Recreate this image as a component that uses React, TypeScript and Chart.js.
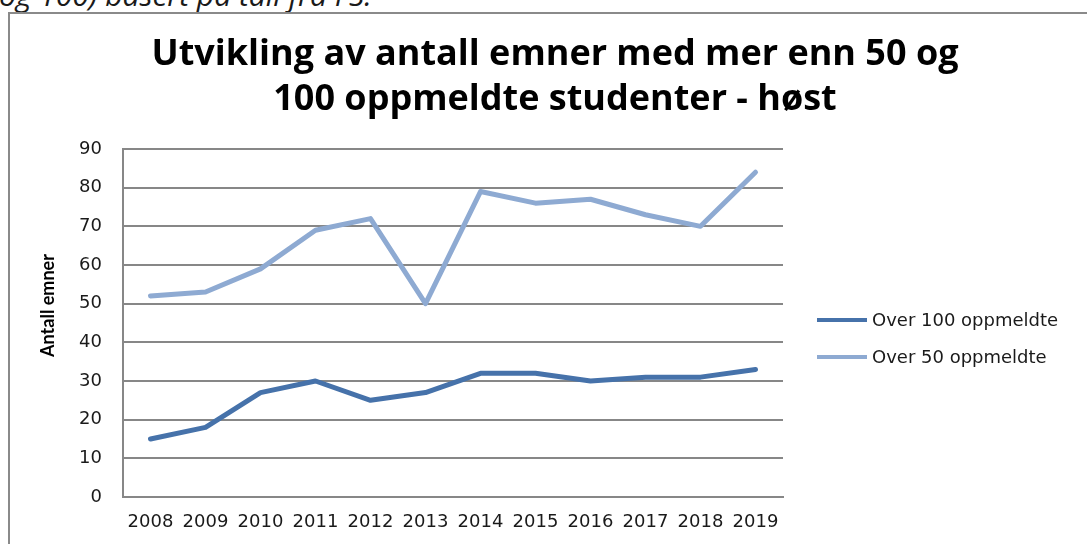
import React, { useEffect, useRef } from "react";
import { Chart, registerables } from "chart.js";

Chart.register(...registerables);

const years = ["2008", "2009", "2010", "2011", "2012", "2013", "2014", "2015", "2016", "2017", "2018", "2019"];
const over100 = [15, 18, 27, 30, 25, 27, 32, 32, 30, 31, 31, 33];
const over50 = [52, 53, 59, 69, 72, 50, 79, 76, 77, 73, 70, 84];
const seriesLabels = ["Over 100 oppmeldte", "Over 50 oppmeldte"];
const seriesColors = ["#4672aa", "#8eaad2"];
const titleLines = ["Utvikling av antall emner med mer enn 50 og", "100 oppmeldte studenter - høst"];
const yTitle = "Antall emner";
const caption = "og 100) basert på tall fra FS.";

const legendPlugin = {
  id: "sideLegend",
  afterDraw(chart: any) {
    const ctx = chart.ctx;
    const x0 = chart.chartArea.right + 34;
    const y0 = 306;
    ctx.save();
    chart.data.datasets.forEach((ds: any, i: number) => {
      const y = y0 + i * 37;
      ctx.strokeStyle = ds.borderColor;
      ctx.lineWidth = 4;
      ctx.lineCap = "butt";
      ctx.beginPath();
      ctx.moveTo(x0, y);
      ctx.lineTo(x0 + 50, y);
      ctx.stroke();
      ctx.fillStyle = "#1a1a1a";
      ctx.font = "18px 'DejaVu Sans'";
      ctx.textBaseline = "middle";
      ctx.textAlign = "left";
      ctx.fillText(ds.label, x0 + 55, y + 1);
    });
    ctx.restore();
  },
};

export default function App() {
  const ref = useRef<HTMLCanvasElement>(null);
  useEffect(() => {
    if (!ref.current) return;
    const chart = new Chart(ref.current, {
      type: "line",
      data: {
        labels: years,
        datasets: [
          {
            label: seriesLabels[0],
            data: over100,
            borderColor: seriesColors[0],
            backgroundColor: seriesColors[0],
            borderWidth: 5,
            pointRadius: 0,
            tension: 0,
            borderJoinStyle: "round",
            borderCapStyle: "round",
            yAxisID: "y",
          },
          {
            label: seriesLabels[1],
            data: over50,
            borderColor: seriesColors[1],
            backgroundColor: seriesColors[1],
            borderWidth: 5,
            pointRadius: 0,
            tension: 0,
            borderJoinStyle: "round",
            borderCapStyle: "round",
            yAxisID: "y",
          },
        ],
      },
      options: {
        responsive: false,
        animation: false,
        layout: { padding: { left: 0, right: 0, top: 0, bottom: 0 } },
        plugins: {
          legend: { display: false },
          tooltip: { enabled: false },
          title: {
            display: true,
            text: titleLines,
            color: "#000",
            font: { family: "Open Sans", size: 36, weight: "bold", lineHeight: 1.25 },
            padding: { top: 18.5, bottom: 26.5 },
          },
        },
        scales: {
          x: {
            offset: true,
            grid: { display: false, drawTicks: false },
            border: { display: true, color: "#878787", width: 2 },
            ticks: {
              color: "#1a1a1a",
              font: { family: "DejaVu Sans", size: 18 },
              padding: 15,
              maxRotation: 0,
              autoSkip: false,
            },
            afterFit: (scale: any) => {
              scale.height = 67;
            },
          },
          y: {
            min: 0,
            max: 90,
            grid: { color: "#878787", lineWidth: 2, drawTicks: false },
            border: { display: true, color: "#878787", width: 2 },
            ticks: {
              stepSize: 10,
              color: "#1a1a1a",
              font: { family: "DejaVu Sans", size: 18 },
              padding: 21,
            },
            title: {
              display: true,
              text: "        " + yTitle,
              color: "#000",
              font: { family: "Lato", size: 18, weight: "bold" },
              padding: { top: 27, bottom: 0 },
            },
            afterFit: (scale: any) => {
              scale.width = 113;
            },
          },
          yRight: {
            position: "right",
            display: true,
            grid: { display: false, drawTicks: false },
            border: { display: false },
            ticks: { display: false },
            afterFit: (scale: any) => {
              scale.width = 317;
            },
          },
        },
      },
      plugins: [legendPlugin],
    });
    return () => chart.destroy();
  }, []);

  return (
    <div
      style={{
        position: "fixed",
        left: 0,
        top: 0,
        width: 1087,
        height: 544,
        overflow: "hidden",
        background: "#fff",
      }}
    >
      <div
        style={{
          position: "absolute",
          left: -1,
          top: -20,
          fontFamily: "'Open Sans'",
          fontStyle: "italic",
          fontSize: 30,
          lineHeight: "30px",
          color: "#1a1a1a",
          whiteSpace: "nowrap",
        }}
      >
        {caption}
      </div>
      <div
        style={{
          position: "absolute",
          left: 8,
          top: 12,
          width: 1200,
          height: 700,
          border: "2px solid #8a8a8a",
          boxSizing: "border-box",
        }}
      />
      <div style={{ position: "absolute", left: 10, top: 14 }}>
        <canvas ref={ref} width={1090} height={550} style={{ display: "block" }} />
      </div>
    </div>
  );
}
